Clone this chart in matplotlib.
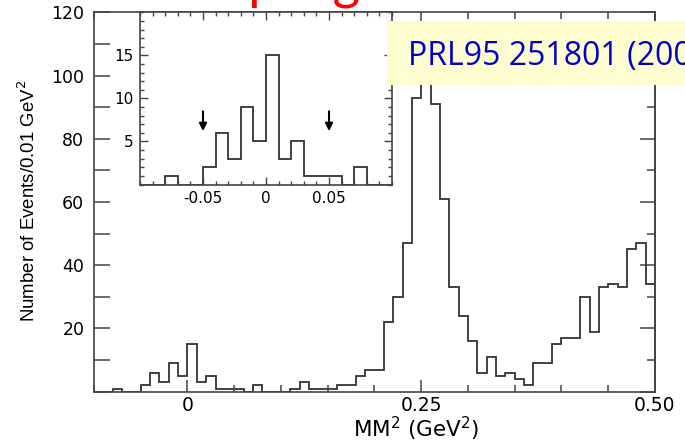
import numpy as np
import matplotlib.pyplot as plt
from matplotlib.ticker import MultipleLocator, FixedLocator, FuncFormatter

# histogram contents, 0.01 GeV^2 bins from -0.10 to 0.50
bin_edges = np.round(np.arange(-0.10, 0.505, 0.01), 2)
counts = [0, 0, 1, 0, 0, 2, 6, 3, 9, 5,
          15, 3, 5, 1, 1, 1, 0, 2, 0, 0,
          0, 1, 3, 1, 1, 1, 2, 2, 5, 7,
          7, 22, 30, 47, 93, 110, 91, 61, 33, 24,
          16, 6, 11, 5, 6, 4, 2, 9, 9, 15,
          17, 17, 30, 19, 33, 34, 33, 45, 47, 34]

# inset: zoom on the signal region
inset_edges = bin_edges[:21]
inset_counts = counts[:20]
cut_positions = [-0.05, 0.05]

x_tick_vals = [0, 0.25, 0.5]
x_tick_labels = ['0', '0.25', '0.50']
inset_x_vals = [-0.05, 0, 0.05]
inset_x_labels = ['-0.05', '0', '0.05']
inset_y_vals = [5, 10, 15]

ylabel = 'Number of Events/0.01 GeV$^2$'
xlabel = 'MM$^2$ (GeV$^2$)'
ref_text = 'PRL95 251801 (2005)'
title_text = 'Sampling'

line_c = '#333333'
spine_c = '#444444'

fig = plt.figure(figsize=(6.85, 4.43), dpi=100)

ax = fig.add_axes([0.1372, 0.1158, 0.819, 0.8564])
ax.stairs(counts, bin_edges, color=line_c, lw=1.3)
ax.set_xlim(-0.1, 0.5)
ax.set_ylim(0, 120)
for s in ax.spines.values():
    s.set_color(spine_c)
    s.set_linewidth(1.2)

ax.xaxis.set_major_locator(FixedLocator(x_tick_vals))
ax.set_xticklabels(x_tick_labels)
ax.xaxis.set_minor_locator(MultipleLocator(0.05))
ax.tick_params(axis='x', which='major', direction='in', length=8.5, top=True,
               bottom=True, width=1.1, color=spine_c, labelsize=13.5, pad=3)
ax.tick_params(axis='x', which='minor', direction='in', length=5, top=True,
               bottom=True, width=1.1, color=spine_c)

ax.yaxis.set_major_locator(MultipleLocator(10))
ax.yaxis.set_major_formatter(FuncFormatter(
    lambda v, p: f'{int(v)}' if v > 0 and int(round(v)) % 20 == 0 else ''))
ax.tick_params(axis='y', which='major', direction='in', length=11.5, left=True,
               right=False, width=1.1, color=spine_c, labelsize=12.5, pad=7)

sec = ax.secondary_yaxis('right')
sec.yaxis.set_major_locator(MultipleLocator(20))
sec.yaxis.set_minor_locator(MultipleLocator(10))
sec.tick_params(which='major', direction='in', length=11, width=1.1,
                color=spine_c, labelright=False)
sec.tick_params(which='minor', direction='in', length=6, width=1.1, color=spine_c)
sec.spines['right'].set_color(spine_c)
sec.spines['right'].set_linewidth(1.2)

# y label: size it so it runs ~242 px like the original
ylab = fig.text(0.041, 0.546, ylabel, rotation=90, ha='center', va='center',
                family='Liberation Sans', fontsize=14.5)
r = fig.canvas.get_renderer()
h = ylab.get_window_extent(r).height
ylab.set_fontsize(14.5 * 242 / h)

fig.text(0.607, 0.031, xlabel, ha='center', va='center', fontsize=15.5)

# inset
axi = fig.add_axes([0.2044, 0.5835, 0.3679, 0.3887])
axi.stairs(inset_counts, inset_edges, color=line_c, lw=1.3)
axi.set_xlim(-0.1, 0.1)
axi.set_ylim(0, 20)
for s in axi.spines.values():
    s.set_color(spine_c)
    s.set_linewidth(1.2)
axi.xaxis.set_major_locator(FixedLocator(inset_x_vals))
axi.set_xticklabels(inset_x_labels)
axi.xaxis.set_minor_locator(MultipleLocator(0.01))
axi.yaxis.set_major_locator(FixedLocator(inset_y_vals))
axi.yaxis.set_minor_locator(MultipleLocator(1))
axi.tick_params(which='major', direction='in', length=5.5, width=1, color=spine_c,
                top=True, right=True, labelsize=11, pad=5)
axi.tick_params(which='minor', direction='in', length=3, width=1, color=spine_c,
                top=True, right=True)
for xc in cut_positions:
    axi.annotate('', xy=(xc, 6.2), xytext=(xc, 8.5),
                 arrowprops=dict(arrowstyle='-|>', color='black', lw=1.5,
                                 mutation_scale=11, shrinkA=0, shrinkB=0))

# slide decorations
fig.patches.append(plt.Rectangle((0.565, 0.808), 0.44, 0.145, transform=fig.transFigure,
                                 facecolor='#fdfdcf', edgecolor='none', zorder=5))
fig.text(0.5956, 0.853, ref_text, color='#0000cc', fontsize=23, family='Open Sans',
         va='baseline', ha='left', zorder=6)
fig.text(0.22, 1.003, title_text, color='red', fontsize=38, family='Lato',
         va='baseline', ha='left')

fig.savefig('out.png', dpi=100)
